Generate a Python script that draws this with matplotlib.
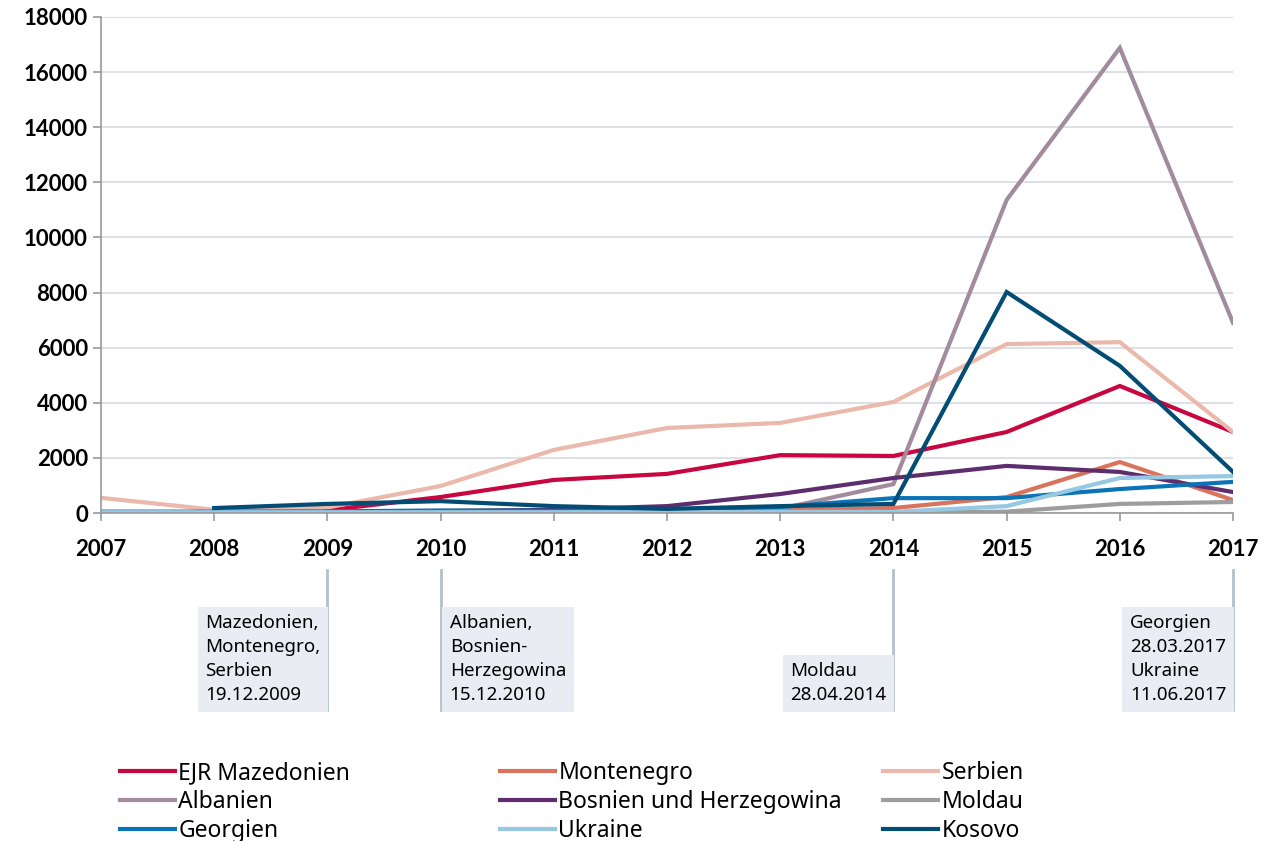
import matplotlib.pyplot as plt
import matplotlib.transforms as mtransforms

plt.rcParams['font.family'] = ['Noto Sans', 'DejaVu Sans']

years = list(range(2007, 2018))

# Asylanträge pro Herkunftsland
mazedonien = [None, None, 100, 580, 1200, 1420, 2100, 2070, 2940, 4610, 2940]
montenegro = [None, None, 50, 80, 100, 80, 120, 180, 580, 1850, 470]
serbien = [550, 120, 200, 980, 2290, 3085, 3270, 4030, 6130, 6200, 2940]
albanien = [None, None, None, 50, 80, 80, 150, 1050, 11360, 16880, 6900]
bosnien = [None, None, None, 60, 120, 250, 690, 1270, 1710, 1490, 760]
moldau = [None, None, None, None, None, None, None, 10, 50, 330, 400]
georgien = [50, 50, 60, 90, 80, 120, 220, 540, 540, 870, 1130]
ukraine = [30, 30, 30, 30, 30, 30, 40, 40, 250, 1270, 1340]
kosovo = [None, 180, 330, 430, 250, 150, 250, 330, 8020, 5340, 1490]

series = [
    ("EJR Mazedonien", mazedonien, "#c8063f"),
    ("Montenegro", montenegro, "#d9735d"),
    ("Serbien", serbien, "#ebb9ab"),
    ("Albanien", albanien, "#a18b9d"),
    ("Bosnien und Herzegowina", bosnien, "#5e2d6e"),
    ("Moldau", moldau, "#9d9d9d"),
    ("Georgien", georgien, "#0b74b6"),
    ("Ukraine", ukraine, "#96c7e3"),
    ("Kosovo", kosovo, "#034d74"),
]

# Visa-Liberalisierung: (Jahr, Text, Seite)
events = [
    (2009, "Mazedonien,\nMontenegro,\nSerbien\n19.12.2009", "right"),
    (2010, "Albanien,\nBosnien-\nHerzegowina\n15.12.2010", "left"),
    (2014, "Moldau\n28.04.2014", "right"),
    (2017, "Georgien\n28.03.2017\nUkraine\n11.06.2017", "right"),
]

fig = plt.figure(figsize=(12.67, 8.41), dpi=100)
ax = fig.add_axes([0.0797, 0.39, 0.8935, 0.5898])

handles = []
for name, vals, col in series:
    xs = [y for y, v in zip(years, vals) if v is not None]
    ys = [v for v in vals if v is not None]
    h, = ax.plot(xs, ys, color=col, lw=3, label=name, solid_joinstyle='miter')
    handles.append(h)

ax.set_xlim(2007, 2017)
ax.set_ylim(0, 18000)
yticks = list(range(0, 18001, 2000))
tickfont = dict(family=['Lato', 'DejaVu Sans'], weight='bold', size=16)
ax.set_xticks(years, labels=[str(y) for y in years], fontdict=tickfont)
ax.set_yticks(yticks, labels=[str(y) for y in yticks], fontdict=tickfont)
ax.tick_params(axis='both', colors='#999999', length=6, width=1.2, labelcolor='black')
ax.tick_params(axis='x', pad=13)
ax.grid(axis='y', color='#dde0e6', lw=1.5)
ax.set_axisbelow(True)
for s in ['top', 'right']:
    ax.spines[s].set_visible(False)
for s in ['left', 'bottom']:
    ax.spines[s].set_color('#999999')
    ax.spines[s].set_linewidth(1.2)

trans = mtransforms.blended_transform_factory(ax.transData, fig.transFigure)
y_top, y_bot = 1 - 570 / 841, 1 - 710 / 841
for yr, txt, side in events:
    ax.plot([yr, yr], [y_top, y_bot], transform=trans, color='#b4c0cc', lw=2,
            clip_on=False)
    if side == "right":
        x0, ha = yr - 0.06, 'right'
    else:
        x0, ha = yr + 0.08, 'left'
    ax.text(x0, y_bot + 0.007, txt, transform=trans, ha=ha, va='bottom',
            multialignment='left', fontsize=13.5, linespacing=1.42,
            bbox=dict(boxstyle='square,pad=0.4', fc='#e9ecf3', ec='none'))

# legend, three columns placed by hand
col_x = [120 / 1267, 500 / 1267, 883 / 1267]
for i, cx in enumerate(col_x):
    hs = [handles[i], handles[i + 3], handles[i + 6]]
    fig.legend(hs, [h.get_label() for h in hs], loc='upper left',
               bbox_to_anchor=(cx, 1 - 761 / 841), frameon=False, fontsize=16.5,
               handlelength=2.4, handletextpad=0.15, labelspacing=0.22,
               borderpad=0, borderaxespad=0)

fig.savefig('out.png', dpi=100)
